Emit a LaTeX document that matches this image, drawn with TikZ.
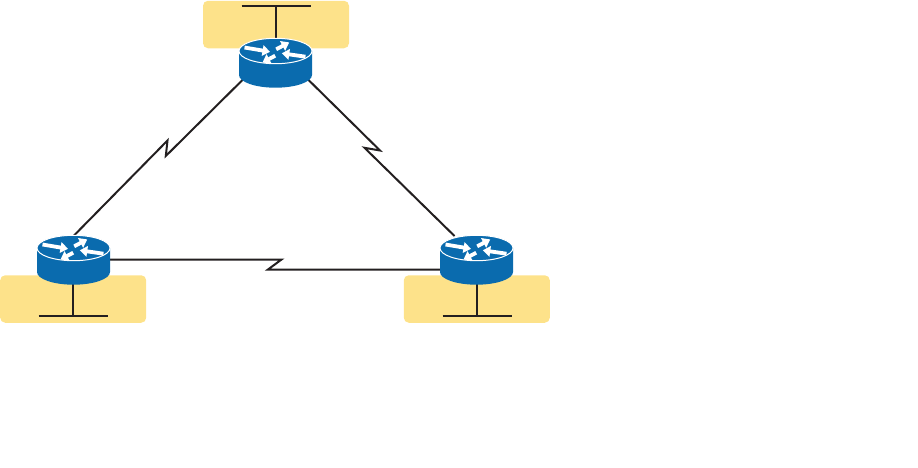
\documentclass[tikz,border=0pt]{standalone}
\usetikzlibrary{arrows.meta,calc}
\definecolor{lanfill}{HTML}{FDE28A}
\definecolor{routerblue}{HTML}{0A6BAE}
\definecolor{wirecol}{HTML}{231F20}
\tikzset{
  x=1pt,y=-1pt,
  lanbox/.style={draw=none,fill=lanfill,rounded corners=5pt,minimum width=146pt,minimum height=47.5pt,inner sep=0pt,outer sep=0pt},
  routeranchor/.style={minimum width=73pt,minimum height=49.5pt,inner sep=0pt,outer sep=0pt},
  wire/.style={draw=wirecol,line width=2pt},
  lanwire/.style={draw=wirecol,line width=2pt},
  routerarrow/.style={white,line width=3.8pt,-{Triangle[length=7.5pt,width=10.5pt]}},
  router/.pic={
    \fill[routerblue] (-36.5,-12) -- (-36.5,12) .. controls (-36.5,19) and (-20.2,24.7) .. (0,24.7) .. controls (20.2,24.7) and (36.5,19) .. (36.5,12) -- (36.5,-12) -- cycle;
    \fill[routerblue,draw=white,line width=1pt] (-36.5,-12) .. controls (-36.5,-19) and (-20.2,-24.7) .. (0,-24.7) .. controls (20.2,-24.7) and (36.5,-19) .. (36.5,-12) .. controls (36.5,-5) and (20.2,0.7) .. (0,0.7) .. controls (-20.2,0.7) and (-36.5,-5) .. (-36.5,-12) -- cycle;
    \draw[routerarrow] (-31,-15.5) -- (-5.5,-11.2);
    \draw[routerarrow] (0.7,-13.7) -- (13.7,-20.6);
    \draw[routerarrow] (30,-6.3) -- (6.3,-9.7);
    \draw[routerarrow] (-0.3,-7.3) -- (-13,-0.5);
  }
}
\begin{document}
\begin{tikzpicture}
\useasboundingbox (0,0) rectangle (918,467);
% LAN boxes
\node[lanbox] (boxT) at (276,24.5) {};
\node[lanbox] (boxL) at (73.2,299) {};
\node[lanbox] (boxR) at (476.8,299) {};
% router anchors
\node[routeranchor] (rT) at (275.5,63) {};
\node[routeranchor] (rL) at (73.5,260) {};
\node[routeranchor] (rR) at (476.5,260) {};
% LAN bars
\coordinate (barT) at (276,6);
\coordinate (barL) at (73,315.7);
\coordinate (barR) at (477,315.7);
\draw[lanwire] ($(barT)+(-34.5,0)$) -- ($(barT)+(34.5,0)$);
\draw[lanwire] ($(barL)+(-34.5,0)$) -- ($(barL)+(34.5,0)$);
\draw[lanwire] ($(barR)+(-34.5,0)$) -- ($(barR)+(34.5,0)$);
\draw[lanwire] (barT) -- (barT |- rT);
\draw[lanwire] (barL) -- (barL |- rL);
\draw[lanwire] (barR) -- (barR |- rR);
% serial links
\coordinate (k1) at (165.8,156);
\coordinate (k2) at (167.5,140.5);
\coordinate (k3) at (380,150.5);
\coordinate (k4) at (364.5,147.8);
\coordinate (k5) at (281.5,259.5);
\coordinate (k6) at (268,269.5);
\draw[wire,line join=miter] ($(rT)+(-30,14)$) -- (k1) -- (k2) -- ($(rL)+(0,-24)$);
\draw[wire,line join=miter] ($(rT)+(30,14)$) -- (k3) -- (k4) -- ($(rR)+(-22,-24)$);
\draw[wire,line join=miter] ($(rL)+(30,-0.5)$) -- (k5) -- (k6) -- ($(rR)+(-30,9.5)$);
% routers
\pic at (rT) {router};
\pic at (rL) {router};
\pic at (rR) {router};
\end{tikzpicture}
\end{document}
